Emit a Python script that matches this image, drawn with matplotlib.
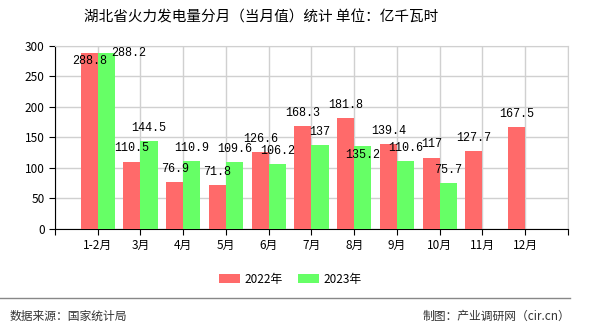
import numpy as np
import matplotlib.pyplot as plt

plt.rcParams['font.family'] = ['Noto Sans CJK SC', 'DejaVu Sans']

months = ['1-2月', '3月', '4月', '5月', '6月', '7月', '8月', '9月', '10月', '11月', '12月']
v2022 = [288.8, 110.5, 76.9, 71.8, 126.6, 168.3, 181.8, 139.4, 117, 127.7, 167.5]
v2023 = [288.2, 144.5, 110.9, 109.6, 106.2, 137, 135.2, 110.6, 75.7]
red = '#ff6a6a'
green = '#66ff66'

fig = plt.figure(figsize=(5.9, 3.3), dpi=100)
ax = fig.add_axes([0.0932, 0.306, 0.8695, 0.555])

x = np.arange(len(months))
w = 0.4
ax.bar(x - w / 2, v2022, w, color=red, zorder=3, label='2022年')
ax.bar(x[:len(v2023)] + w / 2, v2023, w, color=green, zorder=3, label='2023年')

num_font = dict(family='Liberation Mono', fontsize=8.5)
# label offsets (points) where the chart moved a label to avoid a clash
shift22 = {0: (0, -6)}
shift23 = {0: (16, 0), 6: (0, -6)}
for i, v in enumerate(v2022):
    dx, dy = shift22.get(i, (0, 9.5))
    ax.annotate(f'{v:g}', (x[i] - w / 2, v), xytext=(dx, dy), textcoords='offset points',
                ha='center', va='center', zorder=4, **num_font)
for i, v in enumerate(v2023):
    dx, dy = shift23.get(i, (0, 9.5))
    ax.annotate(f'{v:g}', (x[i] + w / 2, v), xytext=(dx, dy), textcoords='offset points',
                ha='center', va='center', zorder=4, **num_font)

ax.set_xlim(-1, len(months))
ax.set_ylim(0, 300)
ax.set_yticks(np.arange(0, 301, 50))
ax.set_xticks(np.arange(-1, len(months) + 1))
ax.set_xticklabels([''] + months + [''])
ax.grid(True, color='#d0d0d0', linewidth=1, zorder=0)
for s in ['top', 'right']:
    ax.spines[s].set_color('#d0d0d0')
for s in ['left', 'bottom']:
    ax.spines[s].set_color('black')
ax.tick_params(axis='both', labelsize=8.5, length=4, color='black')

ax.legend(loc='upper center', bbox_to_anchor=(0.458, -0.18), ncol=2, frameon=False,
          fontsize=8.5, handlelength=1.8, handleheight=0.7, handletextpad=0.35,
          columnspacing=1.3)

fig.text(0.443, 0.948, '湖北省火力发电量分月（当月值）统计 单位：亿千瓦时', ha='center', va='center',
         fontsize=10.5)
fig.add_artist(plt.Line2D([0, 0.966], [0.097, 0.097], color='#888888', linewidth=1))
fig.text(0.017, 0.042, '数据来源：国家统计局', ha='left', va='center', fontsize=8.5, color='#333333')
fig.text(0.966, 0.042, '制图：产业调研网（cir.cn）', ha='right', va='center', fontsize=8.5, color='#333333')

fig.savefig('out.png', dpi=100)
